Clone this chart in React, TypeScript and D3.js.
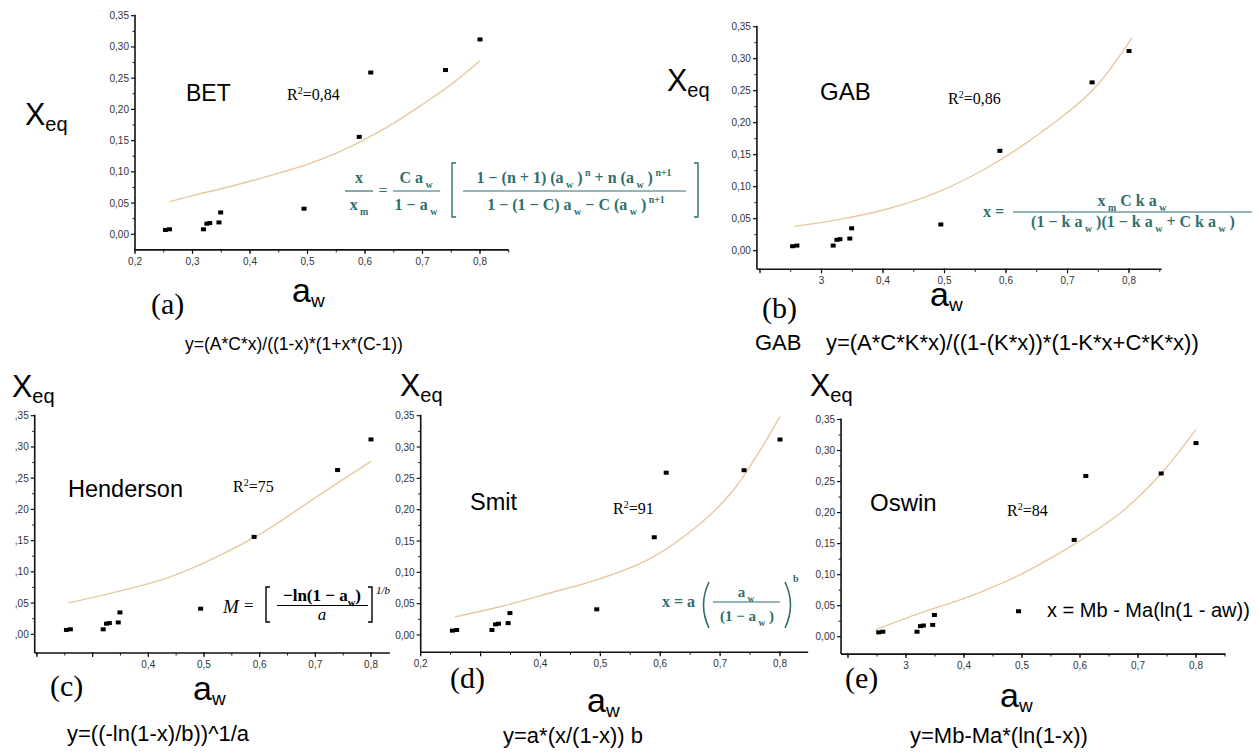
import React from 'react';
import * as d3 from 'd3';

// ---------- data ----------
const awAll = [0.253, 0.26, 0.319, 0.325, 0.33, 0.346, 0.349, 0.494, 0.59, 0.61, 0.74, 0.80];
const xeqAll = [0.007, 0.008, 0.008, 0.017, 0.018, 0.019, 0.035, 0.041, 0.156, 0.259, 0.263, 0.312];
const awNo61 = [0.253, 0.26, 0.319, 0.325, 0.33, 0.346, 0.349, 0.494, 0.59, 0.74, 0.80];
const xeqNo61 = [0.007, 0.008, 0.008, 0.017, 0.018, 0.019, 0.035, 0.041, 0.156, 0.263, 0.312];

const betFitAw = [0.26, 0.30, 0.35, 0.40, 0.45, 0.50, 0.55, 0.60, 0.65, 0.70, 0.75, 0.80];
const betFitX = [0.052, 0.062, 0.073, 0.085, 0.098, 0.112, 0.13, 0.152, 0.178, 0.208, 0.24, 0.278];
const gabFitAw = [0.255, 0.33, 0.41, 0.49, 0.57, 0.65, 0.74, 0.805];
const gabFitX = [0.038, 0.049, 0.066, 0.092, 0.13, 0.18, 0.25, 0.333];
const hendFitAw = [0.256, 0.343, 0.433, 0.523, 0.613, 0.702, 0.80];
const hendFitX = [0.05, 0.068, 0.09, 0.124, 0.167, 0.22, 0.277];
const smitFitAw = [0.257, 0.332, 0.416, 0.5, 0.583, 0.667, 0.722, 0.767, 0.80];
const smitFitX = [0.029, 0.045, 0.067, 0.09, 0.122, 0.178, 0.231, 0.295, 0.349];
const oswinFitAw = [0.247, 0.324, 0.41, 0.497, 0.583, 0.669, 0.738, 0.80];
const oswinFitX = [0.011, 0.038, 0.065, 0.1, 0.145, 0.199, 0.261, 0.334];

const xTickValues = [0.2, 0.3, 0.4, 0.5, 0.6, 0.7, 0.8];
const xLabelsA = ['0,2', '0,3', '0,4', '0,5', '0,6', '0,7', '0,8'];
const xLabelsB = ['', '3', '0,4', '0,5', '0,6', '0,7', '0,8'];
const xLabelsC = ['', '', '0,4', '0,5', '0,6', '0,7', '0,8'];
const xLabelsD = ['0,2', '', '0,4', '0,5', '0,6', '0,7', '0,8'];
const xLabelsE = ['', '3', '0,4', '0,5', '0,6', '0,7', '0,8'];
const yTickValues = [0, 0.05, 0.1, 0.15, 0.2, 0.25, 0.3, 0.35];
const yTickLabels = ['0,00', '0,05', '0,10', '0,15', '0,20', '0,25', '0,30', '0,35'];

const modelNames = ['BET', 'GAB', 'Henderson', 'Smit', 'Oswin'];
const r2Labels = ['0,84', '0,86', '75', '91', '84'];
const panelTags = ['(a)', '(b)', '(c)', '(d)', '(e)'];
const bottomFormulas = [
  'y=(A*C*x)/((1-x)*(1+x*(C-1))',
  'GAB    y=(A*C*K*x)/((1-(K*x))*(1-K*x+C*K*x))',
  'y=((-ln(1-x)/b))^1/a',
  'y=a*(x/(1-x)) b',
  'y=Mb-Ma*(ln(1-x))',
];

// ---------- layout ----------
const SANS = 'Liberation Sans, Arial, sans-serif';
const SERIF = 'Liberation Serif, Times New Roman, serif';
const TEAL = '#2f6f6c';
const CURVE = '#e6c9a0';

type Layout = {
  xRef: [number, number]; xPx: [number, number]; xExt: [number, number];
  yPx: [number, number]; yMin: number; clipLeft?: number;
  name: [number, number, number]; r2: [number, number];
  tag: [number, number]; aw: [number, number]; xeq: [number, number];
  formula: [number, number, number];
};

const layouts: Layout[] = [
  { xRef: [0.2, 0.8], xPx: [135, 480], xExt: [0.2, 0.85], yPx: [234.3, 15.7], yMin: -0.025,
    name: [186, 101, 23], r2: [287, 100], tag: [151, 314], aw: [292, 302], xeq: [25, 125], formula: [185, 350, 17.5] },
  { xRef: [0.4, 0.8], xPx: [883, 1129], xExt: [0.195, 0.853], yPx: [250.7, 26.7], yMin: -0.029,
    name: [820, 100, 24], r2: [948, 104], tag: [762, 318], aw: [930, 306], xeq: [667, 91], formula: [755, 350, 22] },
  { xRef: [0.4, 0.8], xPx: [148.3, 371], xExt: [0.196, 0.834], yPx: [634.3, 415.7], yMin: -0.03, clipLeft: 15,
    name: [68, 497, 23.5], r2: [233, 492], tag: [50, 696], aw: [193, 700], xeq: [12, 397], formula: [67, 741, 22] },
  { xRef: [0.2, 0.8], xPx: [420.7, 780], xExt: [0.2, 0.847], yPx: [635, 415.7], yMin: -0.0276,
    name: [470, 510, 23.5], r2: [613, 514], tag: [450, 688], aw: [587, 712], xeq: [400, 396], formula: [503, 743, 22] },
  { xRef: [0.3, 0.8], xPx: [906, 1196], xExt: [0.188, 0.851], yPx: [636.7, 419.5], yMin: -0.028,
    name: [870, 511, 24], r2: [1007, 516], tag: [845, 688], aw: [1000, 707], xeq: [810, 396], formula: [910, 743, 22] },
];

const panelData = [
  { aw: awAll, xeq: xeqAll, fitAw: betFitAw, fitX: betFitX, xLabels: xLabelsA },
  { aw: awNo61, xeq: xeqNo61, fitAw: gabFitAw, fitX: gabFitX, xLabels: xLabelsB },
  { aw: awNo61, xeq: xeqNo61, fitAw: hendFitAw, fitX: hendFitX, xLabels: xLabelsC },
  { aw: awAll, xeq: xeqAll, fitAw: smitFitAw, fitX: smitFitX, xLabels: xLabelsD },
  { aw: awAll, xeq: xeqAll, fitAw: oswinFitAw, fitX: oswinFitX, xLabels: xLabelsE },
];

type Part = [string, 'n' | 'sub' | 'sup'];
function Rich(props: { x: number; y: number; parts: Part[]; size: number; small?: number; fill?: string; family?: string; weight?: string | number; anchor?: string; italic?: boolean; shift?: number; }) {
  const { x, y, parts, size, fill = '#000', family = SERIF, weight = 'normal', anchor = 'start', italic = false } = props;
  const small = props.small ?? size * 0.62;
  const shift = props.shift ?? size * 0.3;
  let cur = 0;
  return (
    <text x={x} y={y} fontSize={size} fill={fill} fontFamily={family} fontWeight={weight} textAnchor={anchor} fontStyle={italic ? 'italic' : 'normal'}>
      {parts.map(([t, k], i) => {
        const target = k === 'sub' ? shift : k === 'sup' ? -shift * 1.5 : 0;
        const dy = target - cur;
        cur = target;
        return <tspan key={i} dy={dy} fontSize={k === 'n' ? size : small}>{t}</tspan>;
      })}
    </text>
  );
}

function Panel({ i }: { i: number }) {
  const L = layouts[i];
  const D = panelData[i];
  const x = d3.scaleLinear().domain(L.xRef).range(L.xPx);
  const y = d3.scaleLinear().domain([0, 0.35]).range(L.yPx);
  const axisY = y(L.yMin);
  const axisX0 = x(L.xExt[0]);
  const axisX1 = x(L.xExt[1]);
  const minorX = d3.range(0.15, L.xExt[1] + 1e-9, 0.05).filter(v => v >= L.xExt[0] - 1e-9);
  const minorY = d3.range(0.025, 0.35, 0.05);
  const line = d3.line<number>().x(v => x(v)).y((_, j) => y(D.fitX[j])).curve(d3.curveCatmullRom.alpha(0.5));
  const clipId = `clip${i}`;
  return (
    <g>
      {L.clipLeft !== undefined && (
        <defs>
          <clipPath id={clipId}><rect x={L.clipLeft} y={0} width={1258} height={754} /></clipPath>
        </defs>
      )}
      {/* axes */}
      <line x1={axisX0} x2={axisX0} y1={y(0.35) - 1} y2={axisY} stroke="#111" strokeWidth={1.6} />
      <line x1={axisX0} x2={axisX1} y1={axisY} y2={axisY} stroke="#111" strokeWidth={1.6} />
      {yTickValues.map(v => (
        <line key={'yt' + v} x1={axisX0 - 4} x2={axisX0} y1={y(v)} y2={y(v)} stroke="#111" strokeWidth={1.2} />
      ))}
      {minorY.map(v => (
        <line key={'ym' + v} x1={axisX0 - 2.5} x2={axisX0} y1={y(v)} y2={y(v)} stroke="#111" strokeWidth={1} />
      ))}
      {xTickValues.filter(v => v >= L.xExt[0] - 1e-9).map(v => (
        <line key={'xt' + v} x1={x(v)} x2={x(v)} y1={axisY - 1} y2={axisY + 4} stroke="#111" strokeWidth={1.2} />
      ))}
      {minorX.map(v => (
        <line key={'xm' + v} x1={x(v)} x2={x(v)} y1={axisY} y2={axisY + 2.5} stroke="#111" strokeWidth={1} />
      ))}
      <g clipPath={L.clipLeft !== undefined ? `url(#${clipId})` : undefined}>
        {yTickValues.map((v, j) => (
          <text key={'yl' + v} x={axisX0 - 6} y={y(v) + 3.5} fontSize={10} fontFamily={SANS} fill="#333" textAnchor="end">{yTickLabels[j]}</text>
        ))}
      </g>
      {xTickValues.map((v, j) => D.xLabels[j] ? (
        <text key={'xl' + v} x={x(v)} y={axisY + 15} fontSize={10} fontFamily={SANS} fill="#333" textAnchor="middle">{D.xLabels[j]}</text>
      ) : null)}
      {/* fit curve */}
      <path d={line(D.fitAw) || ''} fill="none" stroke={CURVE} strokeWidth={1.4} />
      {/* points */}
      {D.aw.map((a, j) => (
        <rect key={'p' + j} x={x(a) - 2.5} y={y(D.xeq[j]) - 2} width={5} height={4} fill="#000" />
      ))}
      {/* labels */}
      <text x={L.name[0]} y={L.name[1]} fontSize={L.name[2]} fontFamily={SANS} fill="#000">{modelNames[i]}</text>
      <Rich x={L.r2[0]} y={L.r2[1]} size={16} small={10} shift={4} parts={[['R', 'n'], ['2', 'sup'], ['=' + r2Labels[i], 'n']]} />
      <text x={L.tag[0]} y={L.tag[1]} fontSize={30} fontFamily={SERIF} fill="#000">{panelTags[i]}</text>
      <Rich x={L.aw[0]} y={L.aw[1]} size={34} small={19} shift={5} family={SANS} parts={[['a', 'n'], ['w', 'sub']]} />
      <Rich x={L.xeq[0]} y={L.xeq[1]} size={30.5} small={20} shift={6} family={SANS} parts={[['X', 'n'], ['eq', 'sub']]} />
      <text x={L.formula[0]} y={L.formula[1]} fontSize={L.formula[2]} fontFamily={SANS} fill="#000" style={{ whiteSpace: 'pre' }}>{bottomFormulas[i]}</text>
    </g>
  );
}

function Bracket({ x, y0, y1, dir, color, w = 4 }: { x: number; y0: number; y1: number; dir: 1 | -1; color: string; w?: number }) {
  return <path d={`M${x + dir * w},${y0} H${x} V${y1} H${x + dir * w}`} fill="none" stroke={color} strokeWidth={1.4} />;
}

function Formulas() {
  return (
    <g>
      {/* BET */}
      <g fill={TEAL}>
        <Rich x={359} y={183} size={16} weight="bold" fill={TEAL} anchor="middle" parts={[['x', 'n']]} />
        <Rich x={359} y={210} size={16} weight="bold" fill={TEAL} anchor="middle" parts={[['x', 'n'], [' m', 'sub']]} />
        <line x1={345} x2={373} y1={191} y2={191} stroke={TEAL} strokeWidth={1.2} />
        <text x={383} y={196} fontSize={16} fontFamily={SERIF} fill={TEAL} textAnchor="middle">=</text>
        <Rich x={416} y={183} size={16} weight="bold" fill={TEAL} anchor="middle" parts={[['C a', 'n'], [' w', 'sub']]} />
        <Rich x={416} y={210} size={16} weight="bold" fill={TEAL} anchor="middle" parts={[['1 − a', 'n'], [' w', 'sub']]} />
        <line x1={393} x2={440} y1={191} y2={191} stroke={TEAL} strokeWidth={1.2} />
        <Bracket x={452} y0={163} y1={217} dir={1} color={TEAL} />
        <Rich x={574} y={183} size={16} weight="bold" fill={TEAL} anchor="middle"
          parts={[['1 − (n + 1) (a', 'n'], [' w', 'sub'], [' )', 'n'], [' n', 'sup'], [' + n (a', 'n'], [' w', 'sub'], [' )', 'n'], [' n+1', 'sup']]} />
        <Rich x={576} y={210} size={16} weight="bold" fill={TEAL} anchor="middle"
          parts={[['1 − (1 − C) a', 'n'], [' w', 'sub'], ['  − C (a', 'n'], [' w', 'sub'], [' )', 'n'], [' n+1', 'sup']]} />
        <line x1={463} x2={686} y1={191} y2={191} stroke={TEAL} strokeWidth={1.2} />
        <Bracket x={698} y0={163} y1={217} dir={-1} color={TEAL} />
      </g>
      {/* GAB */}
      <text x={983} y={217} fontSize={16} fontFamily={SERIF} fontWeight="bold" fill={TEAL}>x =</text>
      <Rich x={1132} y={206} size={16} weight="bold" fill={TEAL} anchor="middle" parts={[['x', 'n'], [' m', 'sub'], [' C k a', 'n'], [' w', 'sub']]} />
      <line x1={1013} x2={1252} y1={212} y2={212} stroke={TEAL} strokeWidth={1.2} />
      <Rich x={1133} y={227} size={16} weight="bold" fill={TEAL} anchor="middle"
        parts={[['(1 − k a', 'n'], [' w', 'sub'], [' )(1 − k a', 'n'], [' w', 'sub'], [' + C k a', 'n'], [' w', 'sub'], [' )', 'n']]} />
      {/* Henderson */}
      <text x={223} y={613} fontSize={19} fontFamily={SERIF} fontStyle="italic" fill="#000">M</text>
      <text x={244} y={611} fontSize={17} fontFamily={SERIF} fill="#000">=</text>
      <Bracket x={266} y0={587} y1={622} dir={1} color="#000" />
      <Rich x={322} y={601} size={17} weight="bold" anchor="middle" parts={[['−ln(1 − ', 'n'], ['a', 'n'], ['w', 'sub'], [')', 'n']]} />
      <line x1={277} x2={368} y1={605.5} y2={605.5} stroke="#000" strokeWidth={1.2} />
      <text x={322} y={620} fontSize={17} fontFamily={SERIF} fontStyle="italic" fill="#000" textAnchor="middle">a</text>
      <Bracket x={372} y0={587} y1={622} dir={-1} color="#000" />
      <text x={376} y={594} fontSize={11} fontFamily={SERIF} fontStyle="italic" fill="#000">1/b</text>
      {/* Smit */}
      <text x={662} y={607} fontSize={16} fontFamily={SERIF} fontWeight="bold" fill={TEAL}>x = a</text>
      <path d="M709,582 Q698,605 709,628" fill="none" stroke={TEAL} strokeWidth={1.6} />
      <Rich x={746} y={597} size={15} weight="bold" fill={TEAL} anchor="middle" parts={[['a', 'n'], [' w', 'sub']]} />
      <line x1={713} x2={780} y1={602} y2={602} stroke={TEAL} strokeWidth={1.2} />
      <Rich x={747} y={621} size={15} weight="bold" fill={TEAL} anchor="middle" parts={[['(1 − a', 'n'], [' w', 'sub'], [' )', 'n']]} />
      <path d="M785,582 Q796,605 785,628" fill="none" stroke={TEAL} strokeWidth={1.6} />
      <text x={793} y={582} fontSize={10} fontFamily={SERIF} fontWeight="bold" fill={TEAL}>b</text>
      {/* Oswin */}
      <text x={1047} y={617} fontSize={20} fontFamily={SANS} fill="#000">x = Mb - Ma(ln(1 - aw))</text>
    </g>
  );
}

export default function App() {
  return (
    <svg width={1258} height={754} style={{ position: 'absolute', left: 0, top: 0, background: '#fff' }}>
      <rect width={1258} height={754} fill="#fff" />
      {layouts.map((_, i) => <Panel key={i} i={i} />)}
      <Formulas />
    </svg>
  );
}
